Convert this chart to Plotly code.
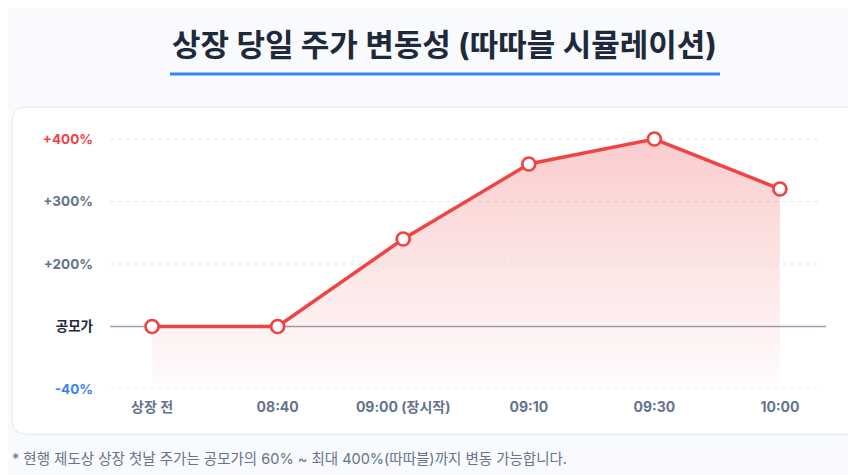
import plotly.graph_objects as go

# 데이터
times = ["상장 전", "08:40", "09:00 (장시작)", "09:10", "09:30", "10:00"]
price_level = [100, 100, 240, 360, 400, 320]  # 축 위치 (100 = 공모가)
tick_vals = [0, 100, 200, 300, 400]
tick_labels = ["-40%", "공모가", "+200%", "+300%", "+400%"]
tick_colors = ["#3b82f6", "#1e293b", "#64748b", "#64748b", "#ef4444"]

FONT = "Inter, 'Noto Sans CJK KR', sans-serif"
RED = "#ef4444"

fig = go.Figure()

fig.add_trace(go.Scatter(
    x=times, y=price_level,
    mode="lines+markers",
    line=dict(color=RED, width=3.5),
    marker=dict(size=13, color="white", line=dict(color=RED, width=2.7)),
    fill="tozeroy",
    fillgradient=dict(type="vertical",
                      colorscale=[[0, "rgba(239,68,68,0.01)"], [1, "rgba(239,68,68,0.27)"]]),
    hoverinfo="skip",
    showlegend=False,
))

# card behind the chart
fig.add_shape(
    type="path", layer="below",
    xref="paper", yref="paper", xsizemode="pixel", ysizemode="pixel",
    xanchor=0, yanchor=0,
    path="M -84,282 L 780,282 L 780,-45 L -84,-45 Q -98,-45 -98,-31 L -98,268 Q -98,282 -84,282 Z",
    fillcolor="white", line=dict(color="#e2e8f0", width=1),
)

# dashed grid (공모가 line is solid)
for v in tick_vals:
    if v == 100:
        fig.add_shape(type="line", xref="paper", yref="y", x0=0, x1=1.006, y0=v, y1=v,
                      line=dict(color="#94a3b8", width=1.5), layer="below")
    else:
        fig.add_shape(type="line", xref="paper", yref="y", x0=0, x1=1, y0=v, y1=v,
                      line=dict(color="#e5e9f0", width=1, dash="4px,4px"), layer="below")

# title underline
fig.add_shape(type="line", xref="paper", yref="paper", x0=0.0843, x1=0.8567,
              y0=1.1455, y1=1.1455, line=dict(color="#3b82f6", width=3))

fig.add_annotation(text="<b>상장 당일 주가 변동성 (따따블 시뮬레이션)</b>",
                   xref="paper", yref="paper", x=0.4705, y=1.251, yanchor="middle",
                   showarrow=False, font=dict(family=FONT, size=31, color="#1e293b"))

fig.add_annotation(text="* 현행 제도상 상장 첫날 주가는 공모가의 60% ~ 최대 400%(따따블)까지 변동 가능합니다.",
                   xref="paper", yref="paper", x=-0.1404, y=-0.251, xanchor="left", yanchor="middle",
                   showarrow=False, font=dict(family=FONT, size=14.5, color="#64748b"))

ticktext = [f'<span style="color:{c}">{t}</span>' for t, c in zip(tick_labels, tick_colors)]

fig.update_layout(
    width=856, height=475,
    margin=dict(l=102, r=42, t=106, b=94),
    paper_bgcolor="#f9fafd",
    plot_bgcolor="rgba(0,0,0,0)",
    font=dict(family=FONT),
    xaxis=dict(
        range=[-0.335, 5.335], showgrid=False, zeroline=False, showline=False,
        tickfont=dict(size=14, color="#64748b", weight=700), ticklabelstandoff=8,
    ),
    yaxis=dict(
        range=[0, 440], tickvals=tick_vals, ticktext=ticktext,
        showgrid=False, zeroline=False, showline=False,
        tickfont=dict(size=13.5, color="#64748b", weight=700), ticklabelstandoff=16,
    ),
)

fig.write_html("out.html")
